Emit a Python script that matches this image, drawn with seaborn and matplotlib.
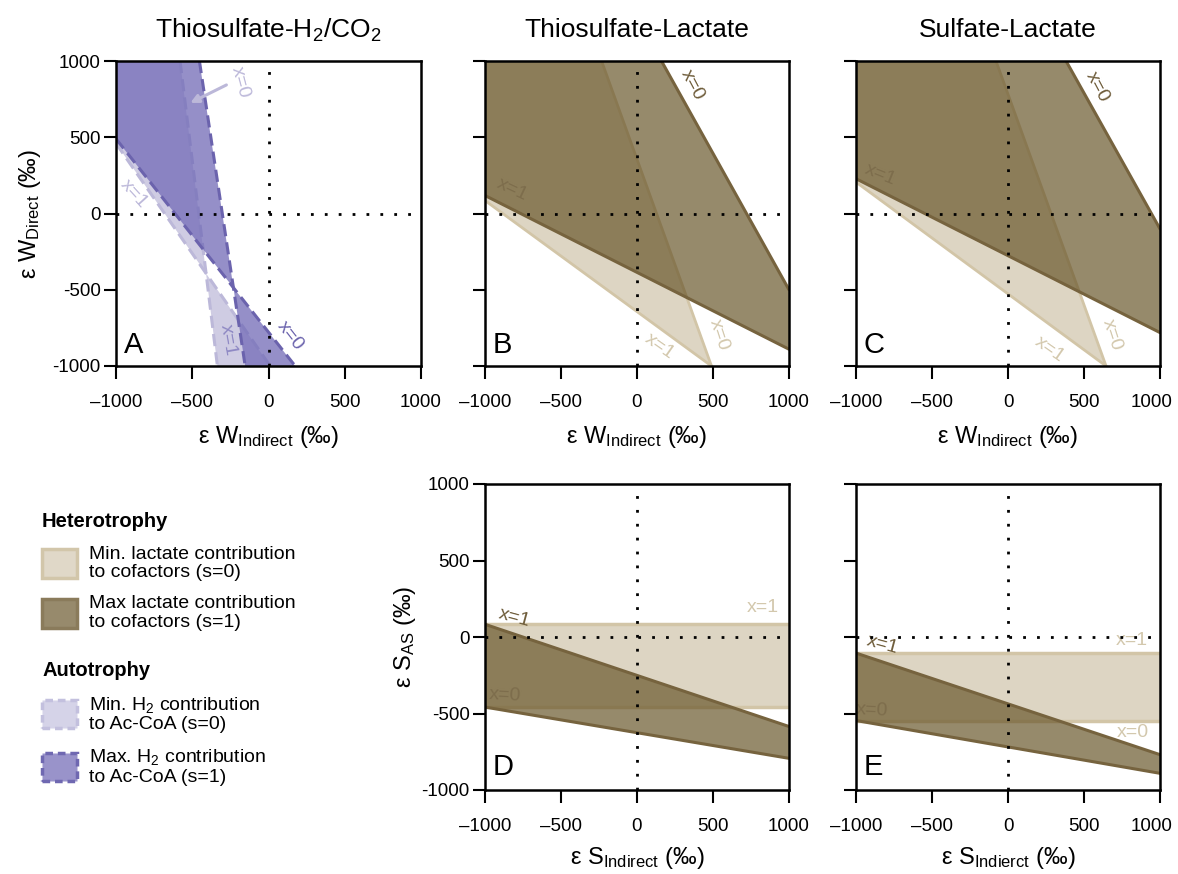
import matplotlib
matplotlib.use("Agg")
import matplotlib.pyplot as plt
import seaborn as sns
from matplotlib.patches import Patch
from matplotlib.ticker import FixedLocator, FixedFormatter
from matplotlib.transforms import ScaledTranslation

sns.set_theme(style="ticks")
plt.rcParams["font.family"] = ["Liberation Sans", "DejaVu Sans"]
plt.rcParams.update({
    "mathtext.fontset": "custom",
    "mathtext.rm": "Liberation Sans",
    "mathtext.it": "Liberation Sans:italic",
    "mathtext.bf": "Liberation Sans:bold",
    "mathtext.default": "regular",
    "axes.linewidth": 1.5,
    "axes.edgecolor": "black",
})

# ---------------- data ----------------
ticks = [-1000, -500, 0, 500, 1000]
xtick_labels = ["\u20131000", "\u2013500", "0", "500", "1000"]
ytick_labels = ["-1000", "-500", "0", "500", "1000"]

titles = ["Thiosulfate-H$_2$/CO$_2$", "Thiosulfate-Lactate", "Sulfate-Lactate"]
panel_letters = ["A", "B", "C", "D", "E"]

# boundary lines: (x values, y values); s = contribution scenario, x = mixing end member
# Panel A : Thiosulfate-H2/CO2 (autotrophy)
A_s0_x0 = ([-580, -335], [1000, -1000])
A_s0_x1 = ([-1000, 11], [460, -1000])
A_s1_x0 = ([-453, -153], [1000, -1000])
A_s1_x1 = ([-1000, 175], [490, -1000])
# Panel B : Thiosulfate-Lactate
B_s0_x0 = ([-233, 490], [1000, -1000])
B_s0_x1 = ([-1000, 490], [85, -1000])
B_s1_x0 = ([161, 1000], [1000, -500])
B_s1_x1 = ([-1000, 1000], [118, -890])
# Panel C : Sulfate-Lactate
C_s0_x0 = ([-79, 645], [1000, -1000])
C_s0_x1 = ([-1000, 645], [206, -1000])
C_s1_x0 = ([382, 1000], [1000, -101])
C_s1_x1 = ([-1000, 1000], [228, -781])
# Panel D : Thiosulfate-Lactate (sulfur)
D_s0_x0 = ([-1000, 1000], [-458, -458])
D_s0_x1 = ([-1000, 1000], [83, 83])
D_s1_x0 = ([-1000, 1000], [-458, -793])
D_s1_x1 = ([-1000, 1000], [83, -585])
# Panel E : Sulfate-Lactate (sulfur)
E_s0_x0 = ([-1000, 1000], [-546, -546])
E_s0_x1 = ([-1000, 1000], [-105, -105])
E_s1_x0 = ([-1000, 1000], [-546, -891])
E_s1_x1 = ([-1000, 1000], [-105, -769])

# ---------------- styles ----------------
TAN_FILL, TAN_EDGE = "#ddd5c3", "#d2c5a7"
BROWN_FILL, BROWN_ALPHA, BROWN_EDGE = "#6a582d", 0.70, "#76633e"
LPUR_FILL, LPUR_EDGE = "#cfcce3", "#bcb8d9"
DPUR_FILL, DPUR_ALPHA, DPUR_EDGE = "#756eb8", 0.77, "#6b63ad"
DASH = (0, (4, 2))

W, H = 1178, 874
fig = plt.figure(figsize=(W / 100, H / 100), dpi=100)


def px_axes(left, top, width, height):
    return fig.add_axes([left / W, 1 - (top + height) / H, width / W, height / H])


axA = px_axes(116, 61, 305, 305)
axB = px_axes(485, 61, 304, 305)
axC = px_axes(856, 61, 304, 305)
axD = px_axes(485, 484, 304, 306)
axE = px_axes(856, 484, 304, 306)
axes = [axA, axB, axC, axD, axE]


def region(line0, line1, corner=None):
    xs, ys = [], []
    if corner is not None:
        xs.append(corner[0]); ys.append(corner[1])
    xs += list(line0[0]); ys += list(line0[1])
    xs += list(line1[0])[::-1]; ys += list(line1[1])[::-1]
    return xs, ys


def draw_line(ax, line, color, lw, ls, z):
    sns.lineplot(x=line[0], y=line[1], ax=ax, color=color, linewidth=lw,
                 linestyle=ls, sort=False, estimator=None, legend=False, zorder=z)


def draw_set(ax, l0, l1, fill, alpha, edge, lw, ls, corner, z, first_x1=False):
    xs, ys = region(l0, l1, corner) if not first_x1 else region(l1, l0, corner)
    ax.fill(xs, ys, facecolor=fill, alpha=alpha, edgecolor="none", lw=0, zorder=z)
    draw_line(ax, l0, edge, lw, ls, z + 0.5)
    draw_line(ax, l1, edge, lw, ls, z + 0.5)


TL = (-1000, 1000)
# Panel A
draw_set(axA, A_s0_x0, A_s0_x1, LPUR_FILL, 1.0, LPUR_EDGE, 2.2, DASH, TL, 1)
draw_set(axA, A_s1_x0, A_s1_x1, DPUR_FILL, DPUR_ALPHA, DPUR_EDGE, 2.2, DASH, TL, 2)
# Panels B, C
for ax, s0x0, s0x1, s1x0, s1x1 in [(axB, B_s0_x0, B_s0_x1, B_s1_x0, B_s1_x1),
                                   (axC, C_s0_x0, C_s0_x1, C_s1_x0, C_s1_x1)]:
    draw_set(ax, s0x0, s0x1, TAN_FILL, 1.0, TAN_EDGE, 2.0, "-", TL, 1)
    draw_set(ax, s1x0, s1x1, BROWN_FILL, BROWN_ALPHA, BROWN_EDGE, 2.2, "-", TL, 2)
# Panels D, E
for ax, s0x0, s0x1, s1x0, s1x1 in [(axD, D_s0_x0, D_s0_x1, D_s1_x0, D_s1_x1),
                                   (axE, E_s0_x0, E_s0_x1, E_s1_x0, E_s1_x1)]:
    draw_set(ax, s0x0, s0x1, TAN_FILL, 1.0, TAN_EDGE, 2.5, "-", None, 1, first_x1=True)
    draw_set(ax, s1x0, s1x1, BROWN_FILL, BROWN_ALPHA, BROWN_EDGE, 2.2, "-", None, 2, first_x1=True)

# axis styling
for i, ax in enumerate(axes):
    ax.set_xlim(-1000, 1000)
    ax.set_ylim(-1000, 1000)
    ax.axhline(0, color="black", lw=2.0, ls=(0, (1, 4)), zorder=5)
    ax.axvline(0, color="black", lw=2.0, ls=(0, (1, 4)), zorder=5)
    ax.xaxis.set_major_locator(FixedLocator(ticks))
    ax.yaxis.set_major_locator(FixedLocator(ticks))
    ax.xaxis.set_major_formatter(FixedFormatter(xtick_labels))
    if ax in (axA, axD):
        ax.yaxis.set_major_formatter(FixedFormatter(ytick_labels))
    else:
        ax.set_yticklabels([])
    ax.tick_params(axis="both", direction="out", length=9, width=1.5, color="black",
                   labelsize=13.5, labelcolor="black")
    ax.tick_params(axis="x", pad=11)
    ax.tick_params(axis="y", pad=2)
    for sp in ax.spines.values():
        sp.set_visible(True)
        sp.set_linewidth(1.8)
        sp.set_color("black")
        sp.set_zorder(6)
    ax.set_facecolor("white")
    ax.grid(False)
    ybase = 0.043 if i < 3 else 0.049
    ax.text(0.025, ybase, panel_letters[i], transform=ax.transAxes, fontsize=21,
            ha="left", va="baseline", color="black", zorder=7)

# keep the right-most x tick label of the right column inside the figure
for ax in (axC, axE):
    lbl = ax.get_xticklabels()[-1]
    lbl.set_transform(lbl.get_transform() + ScaledTranslation(-6 / 72, 0, fig.dpi_scale_trans))

for ax, t in zip([axA, axB, axC], titles):
    ax.set_title(t, fontsize=19, pad=17, color="black")

for ax in [axA, axB, axC]:
    ax.set_xlabel("\u03b5 W$_{Indirect}$ (\u2030)", fontsize=17, color="black")
    ax.xaxis.set_label_coords(0.5, -0.19)
axD.set_xlabel("\u03b5 S$_{Indirect}$ (\u2030)", fontsize=17, color="black")
axE.set_xlabel("\u03b5 S$_{Indierct}$ (\u2030)", fontsize=17, color="black")
for ax in [axD, axE]:
    ax.xaxis.set_label_coords(0.5, -0.18)
axA.set_ylabel("\u03b5 W$_{Direct}$ (\u2030)", fontsize=17, color="black")
axA.yaxis.set_label_coords(-0.24, 0.5)
axD.set_ylabel("\u03b5 S$_{AS}$ (\u2030)", fontsize=17, color="black")
axD.yaxis.set_label_coords(-0.22, 0.5)

# in-panel line labels
def lab(ax, x, y, s, color, rot):
    ax.text(x, y, s, color=color, rotation=rot, rotation_mode="anchor",
            ha="center", va="center", fontsize=14, zorder=4)

LPUR_TXT, MPUR_TXT, DPUR_TXT = "#bdb9da", "#8f89c4", "#6b63ad"
DBR_TXT, MBR_TXT, LTAN_TXT = "#6e5c3a", "#7d6d4c", "#d3c8ad"

lab(axA, -184, 860, "x=0", LPUR_TXT, -75)
lab(axA, -880, 130, "x=1", LPUR_TXT, -48)
lab(axA, -263, -830, "x=1", MPUR_TXT, -80)
lab(axA, 140, -800, "x=0", DPUR_TXT, -52)
axA.annotate("", xy=(-513, 725), xytext=(-276, 843),
             arrowprops=dict(arrowstyle="-|>", color=LPUR_EDGE, lw=2.2,
                             mutation_scale=12, shrinkA=0, shrinkB=0), zorder=4)

lab(axB, 362, 843, "x=0", DBR_TXT, -62)
lab(axB, -822, 154, "x=1", MBR_TXT, -25)
lab(axB, 151, -875, "x=1", LTAN_TXT, -35)
lab(axB, 539, -797, "x=0", LTAN_TXT, -72)

lab(axC, 586, 830, "x=0", DBR_TXT, -62)
lab(axC, -842, 252, "x=1", MBR_TXT, -22)
lab(axC, 276, -895, "x=1", LTAN_TXT, -35)
lab(axC, 684, -797, "x=0", LTAN_TXT, -72)

lab(axD, -803, 124, "x=1", DBR_TXT, -15)
lab(axD, 829, 196, "x=1", LTAN_TXT, 0)
lab(axD, -868, -379, "x=0", MBR_TXT, -3)

lab(axE, -829, -52, "x=1", DBR_TXT, -15)
lab(axE, 816, -20, "x=1", LTAN_TXT, 0)
lab(axE, -895, -477, "x=0", MBR_TXT, -3)
lab(axE, 822, -621, "x=0", LTAN_TXT, 0)

# legends
het = [Patch(facecolor="#e0d8c8", edgecolor="#d2c6aa", lw=2.5,
             label="Min. lactate contribution\nto cofactors (s=0)"),
       Patch(facecolor="#978a6c", edgecolor="#8a7b5b", lw=2.5,
             label="Max lactate contribution\nto cofactors (s=1)")]
aut = [Patch(facecolor="#d5d3e8", edgecolor="#c3c0de", lw=2.5, linestyle=(0, (2.2, 1.4)),
             label="Min. H$_2$ contribution\nto Ac-CoA (s=0)"),
       Patch(facecolor="#9993ca", edgecolor="#6f68b1", lw=2.5, linestyle=(0, (2.2, 1.4)),
             label="Max. H$_2$ contribution\nto Ac-CoA (s=1)")]

leg_kw = dict(loc="upper left", frameon=False, fontsize=14, handlelength=1.8,
              handleheight=1.9, handletextpad=0.6, labelspacing=0.75, borderpad=0,
              borderaxespad=0, alignment="left",
              title_fontproperties={"weight": "bold", "size": 14.5})
leg1 = fig.legend(handles=het, title="Heterotrophy",
                  bbox_to_anchor=(42 / W, 1 - 512 / H), **leg_kw)
leg2 = fig.legend(handles=aut, title="Autotrophy",
                  bbox_to_anchor=(42 / W, 1 - 661 / H), **leg_kw)
for leg in (leg1, leg2):
    for t in leg.get_texts():
        t.set_linespacing(1.1)
        t.set_color("black")
    leg.get_title().set_color("black")

fig.savefig("out.png", dpi=100, facecolor="white")
